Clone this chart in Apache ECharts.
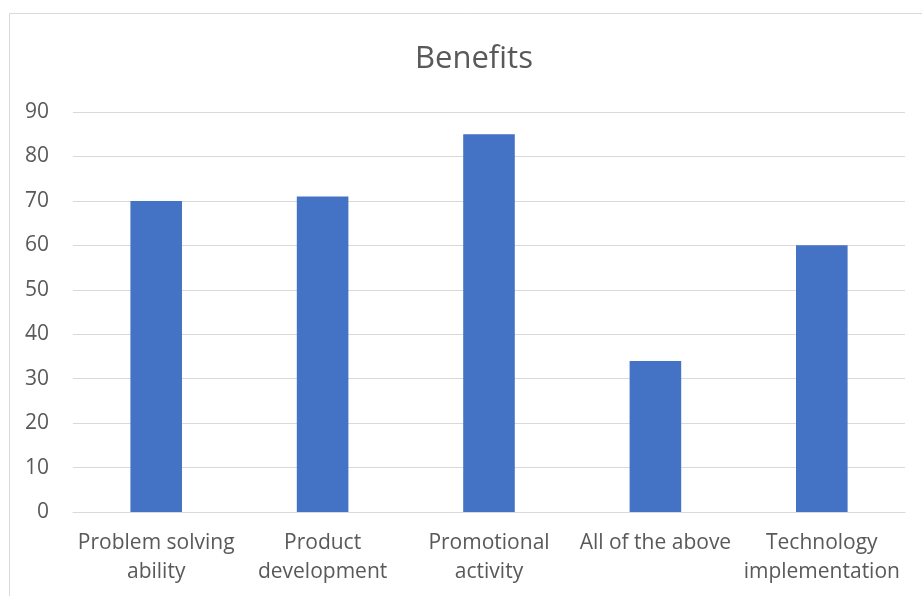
<!DOCTYPE html>
<html>
<head>
<meta charset="utf-8">
<script src="https://cdn.jsdelivr.net/npm/echarts@6/dist/echarts.min.js"></script>
<style>
  html, body { margin: 0; padding: 0; background: #fff; }
  #chart { width: 922px; height: 596px; }
</style>
</head>
<body>
<div id="chart"></div>
<script>
// chart data
var categories = ['Problem solving\nability', 'Product\ndevelopment', 'Promotional\nactivity', 'All of the above', 'Technology\nimplementation'];
var benefitValues = [70, 71, 85, 34, 60];
var yTicks = { min: 0, max: 90, step: 10 };

var textColor = '#595959';
var fontName = '"Open Sans", sans-serif';

var chart = echarts.init(document.getElementById('chart'));
chart.setOption({
  animation: false,
  title: {
    text: 'Benefits',
    left: 410,
    top: 39,
    textStyle: { color: textColor, fontSize: 31, fontWeight: 'normal', fontFamily: fontName }
  },
  // chart frame (cropped at right and bottom like the source)
  graphic: [{
    type: 'rect',
    shape: { x: 9.5, y: 13.5, width: 930, height: 600 },
    style: { fill: 'none', stroke: '#d9d9d9', lineWidth: 1 },
    silent: true
  }],
  grid: { left: 73, right: 17, top: 112, bottom: 84 },
  xAxis: {
    type: 'category',
    data: categories,
    axisLine: { lineStyle: { color: '#d9d9d9', width: 1 } },
    axisTick: { show: false },
    axisLabel: {
      interval: 0,
      color: textColor,
      fontSize: 21,
      fontFamily: fontName,
      lineHeight: 29,
      margin: 17
    }
  },
  yAxis: {
    type: 'value',
    min: yTicks.min,
    max: yTicks.max,
    interval: yTicks.step,
    axisLine: { show: false },
    axisTick: { show: false },
    splitLine: { lineStyle: { color: '#d9d9d9', width: 1 } },
    axisLabel: { color: textColor, fontSize: 21, fontFamily: fontName, margin: 24 }
  },
  series: [{
    type: 'bar',
    data: benefitValues,
    barWidth: '31%',
    itemStyle: { color: '#4472c4' }
  }]
});
</script>
</body>
</html>
